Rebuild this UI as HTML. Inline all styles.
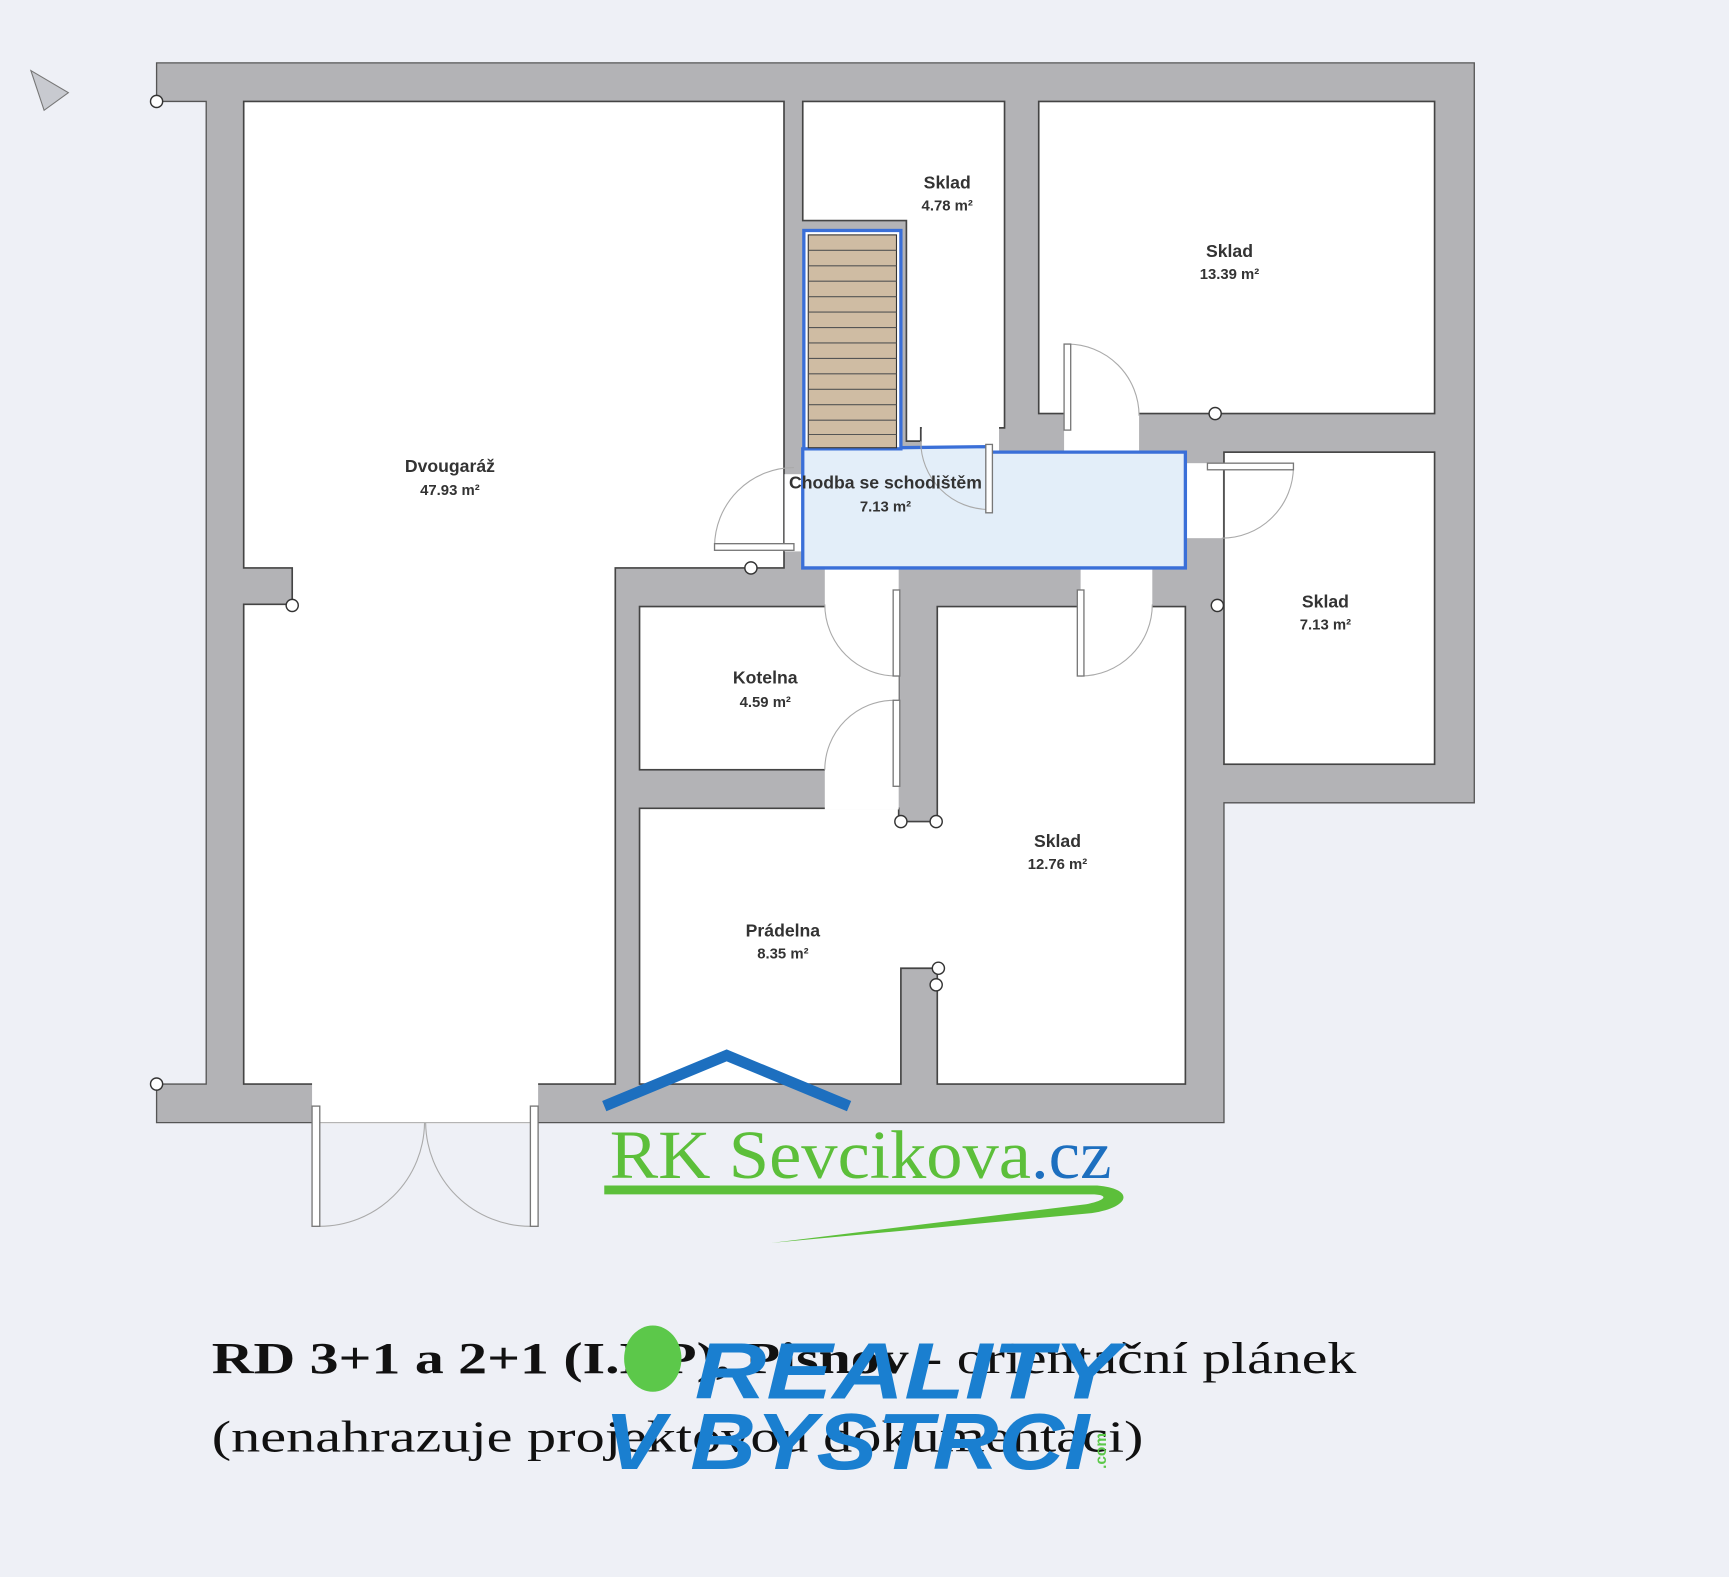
<!DOCTYPE html>
<html><head><meta charset="utf-8"><style>
html,body{margin:0;padding:0;background:#eef0f6;}
svg{display:block}
.lbl{font-family:"Liberation Sans",sans-serif;font-weight:bold;font-size:16px;fill:#333;text-anchor:middle}
.ar{font-family:"Liberation Sans",sans-serif;font-weight:bold;font-size:13.5px;fill:#333;text-anchor:middle}
</style></head><body>
<svg width="1729" height="1577" viewBox="0 0 1568 1430" preserveAspectRatio="none" xmlns="http://www.w3.org/2000/svg">
<rect x="0" y="0" width="1568" height="1430" fill="#eef0f6"/>
<!-- compass -->
<polygon points="28,64 62,84 40,100" fill="#c8cad0" stroke="#777" stroke-width="1"/>
<!-- outer walls -->
<polygon points="142,57 1337,57 1337,728 1110,728 1110,1018 142,1018 142,983 187,983 187,92 142,92" fill="#b3b3b6" stroke="#555" stroke-width="1.2"/>
<g fill="#fff" stroke="#444" stroke-width="1.5">
<polygon points="221,92 711,92 711,515 558,515 558,983 221,983 221,548 265,548 265,515 221,515"/>
<polygon points="728,92 911,92 911,388 835,388 835,400 822,400 822,200 728,200"/>
<rect x="942" y="92" width="359" height="283"/>
<rect x="1110" y="410" width="191" height="283"/>
<rect x="580" y="550" width="235" height="148"/>
<polygon points="580,733 815,733 815,745 850,745 850,550 1075,550 1075,983 850,983 850,878 817,878 817,983 580,983"/>
</g>
<!-- openings -->
<g fill="#fff">
<rect x="283" y="982" width="205" height="37"/>
<rect x="711.5" y="430" width="16" height="70"/>
<rect x="836" y="387" width="70" height="22"/>
<rect x="965" y="374" width="68" height="37"/>
<rect x="1076" y="420" width="33" height="68"/>
<rect x="748" y="514" width="67" height="220"/>
<rect x="980" y="514" width="65" height="37"/>
</g>
<!-- corridor -->
<polygon points="728,407 895,405 897,410 1075,410 1075,515 728,515" fill="#e3eef9" stroke="#3a6fd8" stroke-width="3"/>
<!-- stairs -->
<rect x="729" y="209" width="88" height="198" fill="#fff" stroke="#3a6fd8" stroke-width="3"/>
<rect x="733" y="213" width="80" height="193" fill="#cfbca3" stroke="#333" stroke-width="1"/>
<g stroke="#555" stroke-width="1">
<line x1="733" y1="227" x2="813" y2="227"/><line x1="733" y1="241" x2="813" y2="241"/><line x1="733" y1="255" x2="813" y2="255"/><line x1="733" y1="269" x2="813" y2="269"/><line x1="733" y1="283" x2="813" y2="283"/><line x1="733" y1="297" x2="813" y2="297"/><line x1="733" y1="311" x2="813" y2="311"/><line x1="733" y1="325" x2="813" y2="325"/><line x1="733" y1="339" x2="813" y2="339"/><line x1="733" y1="353" x2="813" y2="353"/><line x1="733" y1="367" x2="813" y2="367"/><line x1="733" y1="381" x2="813" y2="381"/><line x1="733" y1="394" x2="813" y2="394"/>
</g>
<!-- doors -->
<g fill="none" stroke="#aaa" stroke-width="1">
<path d="M290,1112 A95,95 0 0 0 385,1018"/>
<path d="M481,1112 A95,95 0 0 1 386,1018"/>
<path d="M648,496 A72,72 0 0 1 720,424"/>
<path d="M835,400 A62,62 0 0 0 897,462"/>
<path d="M968,312 A65,65 0 0 1 1033,377"/>
<path d="M1173,423 A65,65 0 0 1 1108,488"/>
<path d="M748,548 A65,65 0 0 0 813,613"/>
<path d="M748,698 A63,63 0 0 1 811,635"/>
<path d="M1045,548 A65,65 0 0 1 980,613"/>
<line x1="290" y1="1018" x2="481" y2="1018"/>
</g>
<g fill="#fff" stroke="#777" stroke-width="1.2">
<rect x="283" y="1003" width="7" height="109"/>
<rect x="481" y="1003" width="7" height="109"/>
<rect x="648" y="493" width="72" height="6"/>
<rect x="894" y="403" width="6" height="62"/>
<rect x="965" y="312" width="6" height="78"/>
<rect x="1095" y="420" width="78" height="6"/>
<rect x="810" y="535" width="6" height="78"/>
<rect x="810" y="635" width="6" height="78"/>
<rect x="977" y="535" width="6" height="78"/>
</g>
<g fill="#fff" stroke="#333" stroke-width="1.3">
<circle cx="142" cy="92" r="5.5"/><circle cx="142" cy="983" r="5.5"/><circle cx="265" cy="549" r="5.5"/><circle cx="681" cy="515" r="5.5"/><circle cx="1102" cy="375" r="5.5"/><circle cx="1104" cy="549" r="5.5"/><circle cx="817" cy="745" r="5.5"/><circle cx="849" cy="745" r="5.5"/><circle cx="851" cy="878" r="5.5"/><circle cx="849" cy="893" r="5.5"/>
</g>
<!-- labels -->
<text class="lbl" x="859" y="171">Sklad</text><text class="ar" x="859" y="191">4.78 m²</text>
<text class="lbl" x="1115" y="233">Sklad</text><text class="ar" x="1115" y="253">13.39 m²</text>
<text class="lbl" x="408" y="428">Dvougaráž</text><text class="ar" x="408" y="449">47.93 m²</text>
<text class="lbl" x="803" y="443">Chodba se schodištěm</text><text class="ar" x="803" y="464">7.13 m²</text>
<text class="lbl" x="1202" y="551">Sklad</text><text class="ar" x="1202" y="571">7.13 m²</text>
<text class="lbl" x="694" y="620">Kotelna</text><text class="ar" x="694" y="641">4.59 m²</text>
<text class="lbl" x="959" y="768">Sklad</text><text class="ar" x="959" y="788">12.76 m²</text>
<text class="lbl" x="710" y="849">Prádelna</text><text class="ar" x="710" y="869">8.35 m²</text>
<!-- RK logo -->
<polyline points="548,1003 659,957 770,1003" fill="none" stroke="#1d6fbf" stroke-width="10"/>
<text x="553" y="1068" font-family="Liberation Serif,serif" font-size="62" fill="#5cbf3a" textLength="382" lengthAdjust="spacingAndGlyphs">RK Sevcikova</text>
<text x="935" y="1068" font-family="Liberation Serif,serif" font-size="62" fill="#1d6fbf" textLength="73" lengthAdjust="spacingAndGlyphs">.cz</text>
<path d="M548,1075 L995,1075 C1030,1078 1025,1095 990,1100 L700,1127 L985,1092 C1005,1088 1005,1083 990,1083 L548,1083 Z" fill="#5cbf3a"/>
<!-- caption -->
<text x="192" y="1245" font-family="Liberation Serif,serif" font-size="40" fill="#111" textLength="1038" lengthAdjust="spacingAndGlyphs"><tspan font-weight="bold">RD 3+1 a 2+1 (I.NP), Pisnov</tspan> - orientační plánek</text>
<text x="192" y="1316" font-family="Liberation Serif,serif" font-size="40" fill="#111" textLength="845" lengthAdjust="spacingAndGlyphs">(nenahrazuje projektovou dokumentaci)</text>
<!-- reality logo -->
<ellipse cx="592" cy="1232" rx="26" ry="30" fill="#5cc84a"/>
<text x="630" y="1268" font-family="Liberation Sans,sans-serif" font-weight="bold" font-style="italic" font-size="72" fill="#1a7fd0" textLength="385" lengthAdjust="spacingAndGlyphs">REALITY</text>
<text x="548" y="1332" font-family="Liberation Sans,sans-serif" font-weight="bold" font-style="italic" font-size="72" fill="#1a7fd0" textLength="440" lengthAdjust="spacingAndGlyphs">V BYSTRCI</text>
<text x="0" y="0" transform="translate(1003,1332) rotate(-90)" font-family="Liberation Sans,sans-serif" font-weight="bold" font-size="14" fill="#5cc84a">.com</text>
</svg>
</body></html>
